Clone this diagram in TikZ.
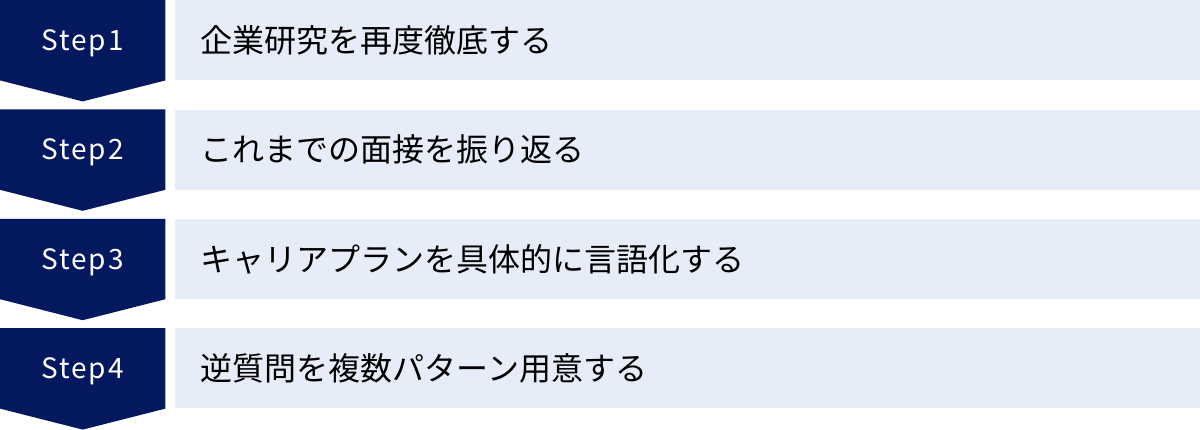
\documentclass[tikz,border=0pt]{standalone}
\usepackage{fontspec}
\setmainfont{Noto Sans CJK JP}
\usetikzlibrary{positioning, backgrounds}
\definecolor{stepnavy}{RGB}{4,24,96}
\definecolor{tasklight}{RGB}{230,236,248}
\tikzstyle{stepBox} = [rectangle, text=white, inner sep=0pt,
   minimum width=165pt, minimum height=80pt, text height=20pt, text depth=0pt,
   font=\fontsize{28}{32}\selectfont\addfontfeatures{LetterSpace=7}]
\tikzstyle{taskBox} = [rectangle, fill=tasklight, text=black, inner ysep=0pt,
   inner xsep=26pt, text width=974pt, align=left, minimum height=80pt,
   font=\fontsize{32}{38}\selectfont]
\tikzstyle{chevron} = [fill=stepnavy]

\begin{document}
\begin{tikzpicture}[
  node distance=29pt and 9pt,
  ]
  \useasboundingbox (0,0) rectangle (1200pt,-429pt);
  \node[stepBox,anchor=north west] (s1) at (0,0) {Step1};
  \node[stepBox,below = of s1] (s2) {Step2};
  \node[stepBox,below = of s2] (s3) {Step3};
  \node[stepBox,below = of s3] (s4) {Step4};
  \node[taskBox,right = of s1] (t1) {企業研究を再度徹底する};
  \node[taskBox,right = of s2] (t2) {これまでの面接を振り返る};
  \node[taskBox,right = of s3] (t3) {キャリアプランを具体的に言語化する};
  \node[taskBox,right = of s4] (t4) {逆質問を複数パターン用意する};
  % Navy arrow shapes behind the step labels:
  \begin{scope}[on background layer]
    \fill[chevron] (s1.north west) -- (s1.north east) -- (s1.south east)
      -- ([yshift=-21pt]s1.south) -- (s1.south west) -- cycle;
    \fill[chevron] (s2.north west) -- (s2.north east) -- (s2.south east)
      -- ([yshift=-21pt]s2.south) -- (s2.south west) -- cycle;
    \fill[chevron] (s3.north west) -- (s3.north east) -- (s3.south east)
      -- ([yshift=-21pt]s3.south) -- (s3.south west) -- cycle;
    \fill[chevron] (s4.north west) -- (s4.north east) -- (s4.south east)
      -- ([yshift=-21pt]s4.south) -- (s4.south west) -- cycle;
  \end{scope}
\end{tikzpicture}
\end{document}
